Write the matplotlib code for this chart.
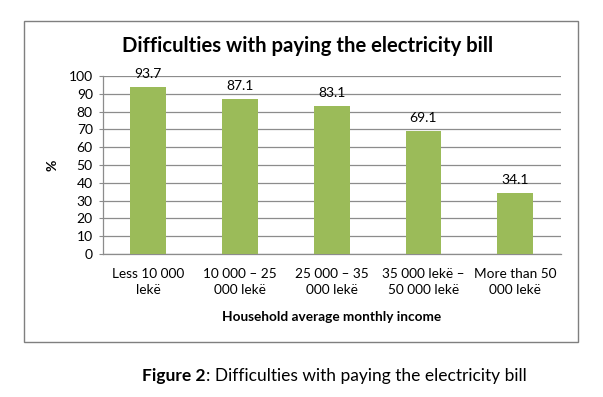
"""Difficulties with paying the electricity bill, by household income."""

import matplotlib

matplotlib.use("Agg")
import matplotlib.pyplot as plt
import numpy as np
from matplotlib.patches import Rectangle

categories = [
    "Less 10 000\nlekë",
    "10 000 – 25\n000 lekë",
    "25 000 – 35\n000 lekë",
    "35 000 lekë –\n50 000 lekë",
    "More than 50\n000 lekë",
]
values = [93.7, 87.1, 83.1, 69.1, 34.1]
y_ticks = list(range(0, 101, 10))

BAR_COLOR = "#9BBB59"
GRID_COLOR = "#8C8C8C"
FONT = ["Lato", "DejaVu Sans"]

W, H = 603, 397


def main() -> None:
    plt.rcParams["font.family"] = FONT
    fig = plt.figure(figsize=(W / 100, H / 100), dpi=100)

    # chart frame
    fig.patches.append(
        Rectangle(
            (23.5 / W, 1 - 342 / H),
            (577.5 - 23.5) / W,
            (342 - 21) / H,
            transform=fig.transFigure,
            fill=False,
            edgecolor="#7F7F7F",
            linewidth=1.0,
        )
    )

    ax = fig.add_axes([102.5 / W, 1 - 254 / H, (561 - 102.5) / W, (254 - 76) / H])
    x = np.arange(len(categories))
    ax.bar(x, values, width=0.39, color=BAR_COLOR, zorder=3)
    for xi, v in zip(x, values):
        ax.annotate(
            f"{v}",
            (xi, v),
            xytext=(0, 9.5),
            textcoords="offset points",
            ha="center",
            va="center",
            fontsize=10,
        )

    ax.set_xlim(-0.5, len(categories) - 0.5)
    ax.set_ylim(0, 100)
    ax.set_yticks(y_ticks)
    ax.tick_params(axis="y", labelsize=10, length=3, color=GRID_COLOR, pad=4)
    ax.set_xticks(x)
    ax.set_xticklabels(categories, fontsize=9.8, linespacing=1.45)
    ax.tick_params(axis="x", length=0, pad=10)
    ax.yaxis.grid(True, color=GRID_COLOR, linewidth=0.9, zorder=0)
    for side in ("top", "right"):
        ax.spines[side].set_visible(False)
    for side in ("left", "bottom"):
        ax.spines[side].set_color(GRID_COLOR)
        ax.spines[side].set_linewidth(0.9)

    ax.set_ylabel("%", fontsize=10, fontweight="bold", labelpad=7)
    ax.set_xlabel("Household average monthly income", fontsize=9.8,
                  fontweight="bold", labelpad=10.5)

    fig.text(307.5 / W, 1 - 46 / H, "Difficulties with paying the electricity bill",
             ha="center", va="center", fontsize=14.6, fontweight="bold")

    # caption below the frame
    cap_y = 1 - 376 / H
    t1 = fig.text(142.5 / W, cap_y, "Figure 2", ha="left", va="center",
                  fontsize=12.5, fontweight="bold")
    fig.canvas.draw()
    bb = t1.get_window_extent()
    fig.text(bb.x1 / W, cap_y, ": Difficulties with paying the electricity bill",
             ha="left", va="center", fontsize=12.5)
    # original crop cuts the caption's descenders
    fig.patches.append(
        Rectangle((0, 0), 1, (H - 383.5) / H, transform=fig.transFigure,
                  facecolor="white", edgecolor="none", zorder=10)
    )

    fig.savefig("out.png", dpi=100)


if __name__ == "__main__":
    main()
